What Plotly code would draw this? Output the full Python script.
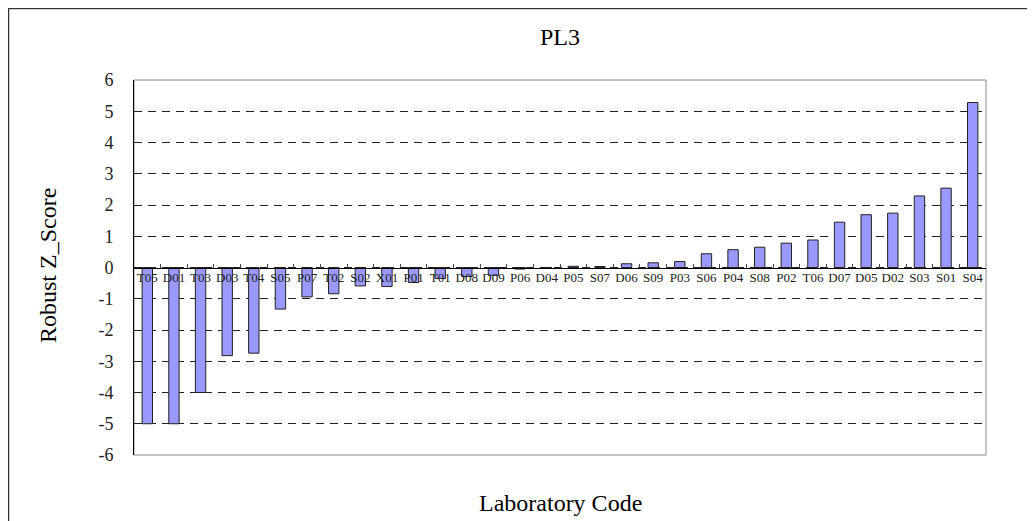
"""PL3 robust z-score bar chart."""

import plotly.graph_objects as go

LAB_CODES = [
    "T05", "D01", "T03", "D03", "T04", "S05", "P07", "T02", "S02", "X01", "P01",
    "T01", "D08", "D09", "P06", "D04", "P05", "S07", "D06", "S09", "P03", "S06",
    "P04", "S08", "P02", "T06", "D07", "D05", "D02", "S03", "S01", "S04",
]
Z_SCORES = [
    -5.0, -5.0, -4.0, -2.82, -2.74, -1.33, -0.94, -0.84, -0.59, -0.61, -0.48,
    -0.35, -0.29, -0.25, -0.05, 0.0, 0.04, 0.03, 0.12, 0.15, 0.19, 0.44,
    0.57, 0.65, 0.78, 0.88, 1.45, 1.69, 1.74, 2.29, 2.54, 5.28,
]
Y_TICKS = list(range(-6, 7))
Y_TICK_TEXT = [str(v) for v in Y_TICKS]  # plain hyphen, not unicode minus

SERIF = "Liberation Serif"

fig = go.Figure()
fig.add_trace(
    go.Bar(
        x=LAB_CODES,
        y=Z_SCORES,
        marker=dict(color="#9999FF", line=dict(color="#222222", width=1)),
        showlegend=False,
    )
)

# outer chart frame and plot-area frame
fig.add_shape(type="rect", xref="paper", yref="paper",
              x0=-0.1473, x1=1.2, y0=-0.4, y1=1.1907,
              line=dict(color="#333333", width=1.5), layer="below")
fig.add_shape(type="rect", xref="paper", yref="paper",
              x0=0, x1=1, y0=0, y1=1,
              line=dict(color="#888888", width=1), layer="below")

fig.update_layout(
    width=1027,
    height=513,
    margin=dict(l=126, r=49, t=72, b=66),
    paper_bgcolor="white",
    plot_bgcolor="white",
    bargap=0.61,
    font=dict(family=SERIF, color="black"),
    xaxis=dict(
        anchor="free",
        position=0.5,
        showline=True,
        linecolor="black",
        linewidth=1,
        ticks="inside",
        ticklen=4,
        tickson="boundaries",
        tickangle=0,
        tickfont=dict(size=13, family=SERIF, color="#222222"),
        ticklabelstandoff=-2,
        showgrid=False,
        range=[-0.5, len(LAB_CODES) - 0.5],
    ),
    yaxis=dict(
        range=[-6, 6],
        tickvals=Y_TICKS,
        ticktext=Y_TICK_TEXT,
        ticks="",
        ticklabelstandoff=16,
        showline=True,
        linecolor="black",
        linewidth=1,
        showgrid=True,
        gridcolor="#222222",
        griddash="8px,6px",
        gridwidth=1,
        zeroline=False,
        tickfont=dict(size=18, family=SERIF, color="#222222"),
    ),
    annotations=[
        dict(text="PL3", xref="paper", yref="paper", x=0.5, y=1.115,
             showarrow=False, xanchor="center", yanchor="middle",
             font=dict(size=24, family=SERIF)),
        dict(text="Laboratory Code", xref="paper", yref="paper", x=0.5, y=-0.128,
             showarrow=False, xanchor="center", yanchor="middle",
             font=dict(size=24, family=SERIF)),
        dict(text="Robust Z_Score", xref="paper", yref="paper",
             x=(40 - 126) / 852, y=(447 - 258) / 375, textangle=-90,
             showarrow=False, xanchor="center", yanchor="middle",
             font=dict(size=24, family=SERIF)),
    ],
)

fig.write_html("out.html")
